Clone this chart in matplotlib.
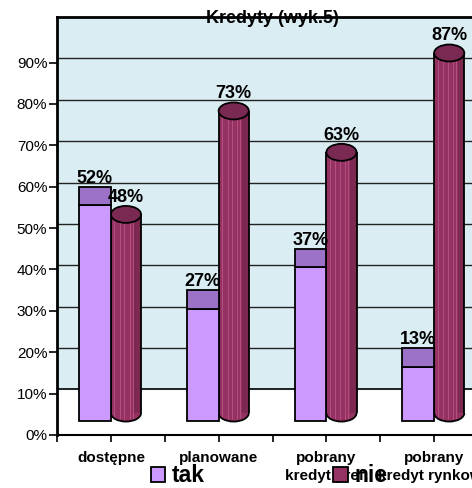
import matplotlib
matplotlib.use("Agg")
import matplotlib.pyplot as plt
from matplotlib.patches import Rectangle, Ellipse, Arc, Patch

plt.rcParams['font.family'] = ['Liberation Sans', 'DejaVu Sans']

# dane
categories = ['dostępne', 'planowane', 'pobrany\nkredyt pref.', 'pobrany\nkredyt rynkowy']
tak = [52, 27, 37, 13]
nie = [48, 73, 63, 87]
y_ticks = [0, 10, 20, 30, 40, 50, 60, 70, 80, 90]
y_labels = [f'{v}%' for v in y_ticks]

# kolory
wall_color = '#DAEDF3'
tak_face = '#CC99FF'
tak_top = '#9B72C8'
nie_body = '#963263'
nie_light = '#B4507F'
nie_dark = '#7C2850'
nie_top = '#7A2952'

fig = plt.figure(figsize=(4.72, 4.88), dpi=100)
ax = fig.add_axes([57 / 472, 53 / 488, 431 / 472, 418 / 488])
ax.set_xlim(0, 4)
ax.set_ylim(0, 101)
ax.set_facecolor('white')

# tylna ściana (efekt 3D z Excela)
ax.axhspan(11, 101, color=wall_color, zorder=0)
ax.hlines([21, 31, 41, 51, 61, 71, 81, 91], 0, 4, colors='#222222', lw=1.0, zorder=0.5)
ax.hlines(11, 0, 4, colors='black', lw=1.2, zorder=0.5)

base_tak = 3.5
base_nie = 5.3
top_depth = 4.5
ell_h = 4.1

for i in range(len(categories)):
    # tak - prostopadłościan
    x0 = i + 0.205
    w = 0.295
    ax.add_patch(Rectangle((x0, base_tak), w, tak[i], facecolor=tak_face,
                           edgecolor='black', lw=1.3, zorder=3))
    ax.add_patch(Rectangle((x0, base_tak + tak[i]), w, top_depth, facecolor=tak_top,
                           edgecolor='black', lw=1.3, zorder=3))
    ax.text(x0 + w / 2, base_tak + tak[i] + top_depth + 1.0, f'{tak[i]}%',
            ha='center', va='baseline', fontsize=13, fontweight='bold', zorder=6)

    # nie - walec
    c0 = i + 0.5
    cw = 0.28
    cx = c0 + cw / 2
    top = base_nie + nie[i]
    ax.add_patch(Ellipse((cx, base_nie), cw, ell_h, facecolor=nie_body,
                         edgecolor='none', zorder=2))
    ax.add_patch(Rectangle((c0, base_nie), cw, nie[i], facecolor=nie_body,
                           edgecolor='none', zorder=2))
    ax.add_patch(Rectangle((c0 + cw * 0.78, base_nie), cw * 0.22, nie[i],
                           facecolor=nie_dark, edgecolor='none', zorder=2.1))
    for f in [0.12, 0.3, 0.45, 0.62, 0.72]:
        ax.vlines(c0 + cw * f, base_nie - 1.5, top, colors=nie_light, lw=0.7, zorder=2.2)
    ax.vlines([c0, c0 + cw], base_nie, top, colors='black', lw=1.3, zorder=2.3)
    ax.add_patch(Arc((cx, base_nie), cw, ell_h, theta1=180, theta2=360,
                     edgecolor='black', lw=1.3, zorder=2.3))
    ax.add_patch(Ellipse((cx, top), cw, ell_h, facecolor=nie_top,
                         edgecolor='black', lw=1.3, zorder=2.4))
    ax.text(cx, top + ell_h / 2 + 1.0, f'{nie[i]}%',
            ha='center', va='baseline', fontsize=13, fontweight='bold', zorder=6)

# osie
ax.set_yticks(y_ticks, labels=y_labels)
ax.set_xticks([0.5, 1.5, 2.5, 3.5], labels=categories)
ax.set_xticks([0, 1, 2, 3], minor=True)
ax.tick_params(axis='y', length=6, width=1.2, pad=1, labelsize=11, direction='out')
ax.tick_params(axis='x', which='both', length=5, width=1.2, direction='out')
ax.tick_params(axis='x', which='major', pad=6.5, labelsize=11)
for lab in ax.get_xticklabels():
    lab.set_fontweight('bold')
    lab.set_linespacing(1.35)

ax.spines['right'].set_visible(False)
ax.spines['left'].set_linewidth(2)
ax.spines['top'].set_linewidth(2)
ax.spines['bottom'].set_linewidth(1.5)

ax.set_title('Kredyty (wyk.5)', fontsize=13, fontweight='bold', y=0.9856, pad=0,
             va='baseline')

handles = [Patch(facecolor=tak_face, edgecolor='black', lw=1.3),
           Patch(facecolor=nie_body, edgecolor='black', lw=1.3)]
fig.legend(handles, ['tak', 'nie'], ncol=2, loc='center left',
           bbox_to_anchor=(151 / 472, 12 / 488), frameon=False,
           prop={'size': 16.5, 'weight': 'bold'}, handlelength=0.62, handleheight=0.62,
           handletextpad=0.3, columnspacing=5.6, borderpad=0, borderaxespad=0)

fig.savefig('out.png', dpi=100)
